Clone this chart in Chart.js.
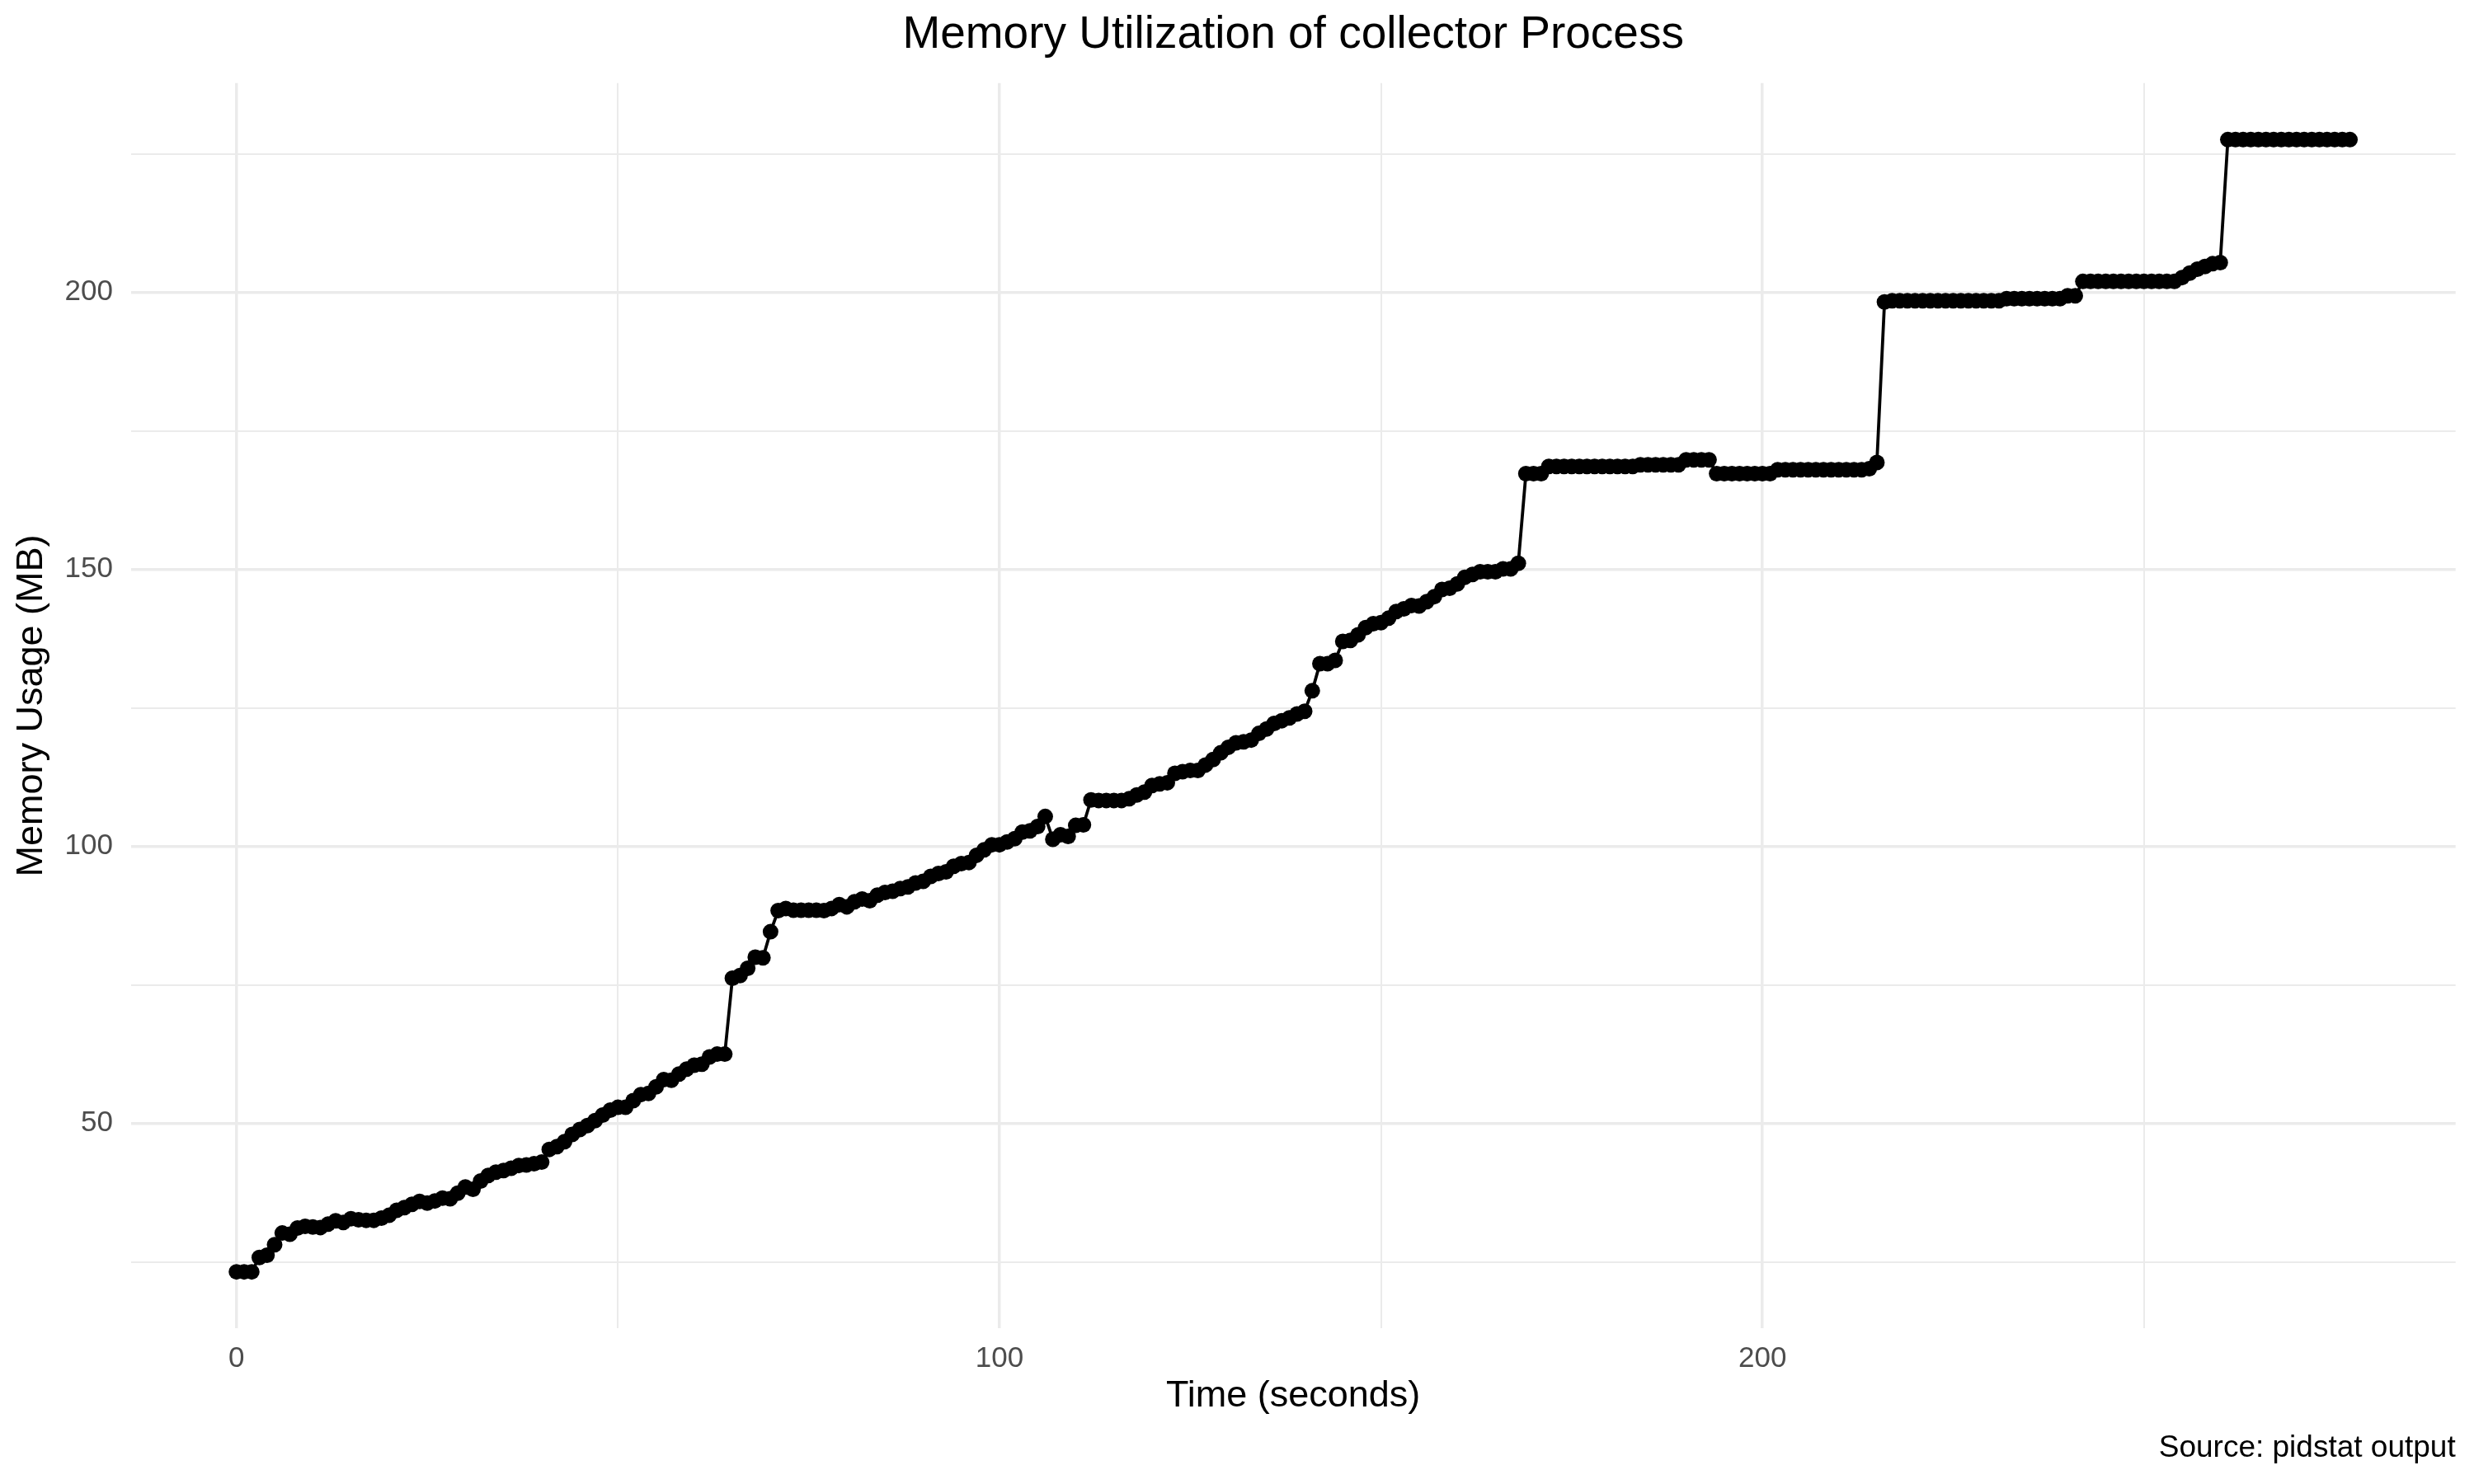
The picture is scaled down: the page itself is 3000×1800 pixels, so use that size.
<!DOCTYPE html>
<html>
<head>
<meta charset="utf-8">
<title>Memory Utilization of collector Process</title>
<script src="https://cdn.jsdelivr.net/npm/chart.js"></script>
<style>
  html, body { margin: 0; padding: 0; background: #fff; }
  #wrap { width: 3000px; height: 1800px; }
</style>
</head>
<body>
<div id="wrap"><canvas id="chartMem" width="3000" height="1800"></canvas></div>
<script>
// pidstat samples, one per second
const seconds = [
    0,   1,   2,   3,   4,   5,   6,   7,   8,   9,  10,  11,  12,  13,  14,  15,  16,  17,  18,  19,
   20,  21,  22,  23,  24,  25,  26,  27,  28,  29,  30,  31,  32,  33,  34,  35,  36,  37,  38,  39,
   40,  41,  42,  43,  44,  45,  46,  47,  48,  49,  50,  51,  52,  53,  54,  55,  56,  57,  58,  59,
   60,  61,  62,  63,  64,  65,  66,  67,  68,  69,  70,  71,  72,  73,  74,  75,  76,  77,  78,  79,
   80,  81,  82,  83,  84,  85,  86,  87,  88,  89,  90,  91,  92,  93,  94,  95,  96,  97,  98,  99,
  100, 101, 102, 103, 104, 105, 106, 107, 108, 109, 110, 111, 112, 113, 114, 115, 116, 117, 118, 119,
  120, 121, 122, 123, 124, 125, 126, 127, 128, 129, 130, 131, 132, 133, 134, 135, 136, 137, 138, 139,
  140, 141, 142, 143, 144, 145, 146, 147, 148, 149, 150, 151, 152, 153, 154, 155, 156, 157, 158, 159,
  160, 161, 162, 163, 164, 165, 166, 167, 168, 169, 170, 171, 172, 173, 174, 175, 176, 177, 178, 179,
  180, 181, 182, 183, 184, 185, 186, 187, 188, 189, 190, 191, 192, 193, 194, 195, 196, 197, 198, 199,
  200, 201, 202, 203, 204, 205, 206, 207, 208, 209, 210, 211, 212, 213, 214, 215, 216, 217, 218, 219,
  220, 221, 222, 223, 224, 225, 226, 227, 228, 229, 230, 231, 232, 233, 234, 235, 236, 237, 238, 239,
  240, 241, 242, 243, 244, 245, 246, 247, 248, 249, 250, 251, 252, 253, 254, 255, 256, 257, 258, 259,
  260, 261, 262, 263, 264, 265, 266, 267, 268, 269, 270, 271, 272, 273, 274, 275, 276, 277
];

// RSS in MB
const memoryMB = [
   23.2,  23.2,  23.2,  25.8,  26.2,  28.1,  30.2,  30.0,  31.1,  31.4,
   31.3,  31.2,  31.8,  32.4,  32.1,  32.8,  32.6,  32.5,  32.5,  32.9,
   33.4,  34.3,  34.8,  35.4,  35.9,  35.6,  36.0,  36.5,  36.4,  37.4,
   38.5,  38.1,  39.6,  40.6,  41.2,  41.5,  41.9,  42.4,  42.5,  42.7,
   43.0,  45.3,  45.8,  46.7,  48.0,  48.9,  49.6,  50.5,  51.5,  52.4,
   52.9,  52.9,  54.1,  55.2,  55.4,  56.6,  57.9,  57.8,  58.9,  59.8,
   60.5,  60.7,  62.0,  62.5,  62.5,  76.2,  76.7,  78.0,  80.0,  79.9,
   84.6,  88.4,  88.8,  88.5,  88.5,  88.5,  88.5,  88.4,  88.8,  89.5,
   89.1,  90.0,  90.5,  90.2,  91.2,  91.7,  91.9,  92.4,  92.7,  93.4,
   93.7,  94.6,  95.1,  95.4,  96.4,  96.9,  97.1,  98.4,  99.4, 100.3,
  100.3, 100.8, 101.4, 102.6, 102.8, 103.6, 105.4, 101.3, 102.1, 101.8,
  103.8, 103.9, 108.4, 108.3, 108.3, 108.3, 108.3, 108.6, 109.3, 109.8,
  111.0, 111.3, 111.5, 113.2, 113.5, 113.7, 113.7, 114.7, 115.7, 116.9,
  117.9, 118.7, 118.9, 119.2, 120.4, 121.2, 122.2, 122.7, 123.2, 123.9,
  124.4, 128.1, 133.0, 133.0, 133.6, 137.0, 137.2, 138.2, 139.5, 140.2,
  140.4, 141.2, 142.4, 142.9, 143.5, 143.4, 144.2, 145.1, 146.4, 146.6,
  147.4, 148.6, 149.1, 149.6, 149.6, 149.6, 150.1, 150.1, 151.1, 167.3,
  167.3, 167.3, 168.6, 168.6, 168.6, 168.6, 168.6, 168.6, 168.6, 168.6,
  168.6, 168.6, 168.6, 168.6, 168.9, 168.9, 168.9, 168.9, 168.9, 168.9,
  169.8, 169.8, 169.8, 169.8, 167.3, 167.3, 167.3, 167.3, 167.3, 167.3,
  167.3, 167.3, 168.0, 168.0, 168.0, 168.0, 168.0, 168.0, 168.0, 168.0,
  168.0, 168.0, 168.0, 168.0, 168.2, 169.3, 198.3, 198.5, 198.5, 198.5,
  198.5, 198.5, 198.5, 198.5, 198.5, 198.5, 198.5, 198.5, 198.5, 198.5,
  198.5, 198.5, 198.9, 198.9, 198.9, 198.9, 198.9, 198.9, 198.9, 198.9,
  199.4, 199.4, 202.0, 202.0, 202.0, 202.0, 202.0, 202.0, 202.0, 202.0,
  202.0, 202.0, 202.0, 202.0, 202.0, 202.7, 203.5, 204.2, 204.7, 205.2,
  205.4, 227.6, 227.6, 227.6, 227.6, 227.6, 227.6, 227.6, 227.6, 227.6,
  227.6, 227.6, 227.6, 227.6, 227.6, 227.6, 227.6, 227.6
];

const xTickLabels = [0, 100, 200];
const xMinorGrid = [50, 150, 250];
const yTickLabels = [50, 100, 150, 200];
const yMinorGrid = [25, 75, 125, 175, 225];

const FONT = '"Liberation Sans", Arial, Helvetica, sans-serif';

// ggplot style 5% expansion around the data
function expand(values) {
    const lo = Math.min(...values), hi = Math.max(...values);
    const pad = (hi - lo) * 0.05;
    return [lo - pad, hi + pad];
}
const [xMin, xMax] = expand(seconds);
const [yMin, yMax] = expand(memoryMB);

function gridTicks(major, minor) {
    return major.concat(minor).sort((a, b) => a - b).map(v => ({ value: v }));
}

function gridWidth(major) {
    return ctx => (ctx.tick && major.includes(ctx.tick.value)) ? 3.5 : 2;
}

const ctx = document.getElementById('chartMem').getContext('2d');
const chartMem = new Chart(ctx, {
    type: 'line',
    data: {
        datasets: [{
            label: 'Memory Usage (MB)',
            data: seconds.map((t, i) => ({ x: t, y: memoryMB[i] })),
            borderColor: '#000000',
            backgroundColor: '#000000',
            borderWidth: 3.8,
            pointRadius: 9.5,
            pointBorderWidth: 0,
            pointBackgroundColor: '#000000',
            tension: 0,
            fill: false
        }]
    },
    options: {
        responsive: false,
        animation: false,
        devicePixelRatio: 1,
        layout: { padding: { left: 0, right: 22.3, top: 0, bottom: 0 } },
        plugins: {
            legend: { display: false },
            tooltip: { enabled: false },
            title: {
                display: true,
                text: 'Memory Utilization of collector Process',
                color: '#000000',
                fullSize: false,
                font: { family: FONT, size: 55, weight: 'normal', lineHeight: 1.2 },
                padding: { top: 10, bottom: 24.7 }
            },
            subtitle: {
                display: true,
                position: 'bottom',
                align: 'end',
                text: 'Source: pidstat output',
                color: '#000000',
                fullSize: false,
                font: { family: FONT, size: 37, weight: 'normal', lineHeight: 1.2 },
                padding: { top: 0, bottom: 20.8 }
            }
        },
        scales: {
            x: {
                type: 'linear',
                min: xMin,
                max: xMax,
                bounds: 'data',
                afterBuildTicks: s => { s.ticks = gridTicks(xTickLabels, xMinorGrid); },
                afterFit: s => { s.height = 123.5; },
                border: { display: false },
                grid: { color: '#ebebeb', lineWidth: gridWidth(xTickLabels), drawTicks: false },
                ticks: {
                    autoSkip: false,
                    maxRotation: 0,
                    padding: 16,
                    color: '#4d4d4d',
                    font: { family: FONT, size: 35 },
                    callback: v => xTickLabels.includes(v) ? String(v) : ''
                },
                title: {
                    display: true,
                    text: 'Time (seconds)',
                    color: '#000000',
                    font: { family: FONT, size: 45, lineHeight: 1.2 },
                    padding: { top: 0, bottom: 14 }
                }
            },
            y: {
                type: 'linear',
                min: yMin,
                max: yMax,
                bounds: 'data',
                afterBuildTicks: s => { s.ticks = gridTicks(yTickLabels, yMinorGrid); },
                afterFit: s => { s.width = 158.6; },
                border: { display: false },
                grid: { color: '#ebebeb', lineWidth: gridWidth(yTickLabels), drawTicks: false },
                ticks: {
                    autoSkip: false,
                    padding: 21.6,
                    color: '#4d4d4d',
                    font: { family: FONT, size: 35 },
                    callback: v => yTickLabels.includes(v) ? String(v) : ''
                },
                title: {
                    display: true,
                    text: 'Memory Usage (MB)',
                    color: '#000000',
                    font: { family: FONT, size: 45, lineHeight: 1.2 },
                    padding: { top: 12, bottom: 0 }
                }
            }
        }
    }
});
</script>
</body>
</html>
